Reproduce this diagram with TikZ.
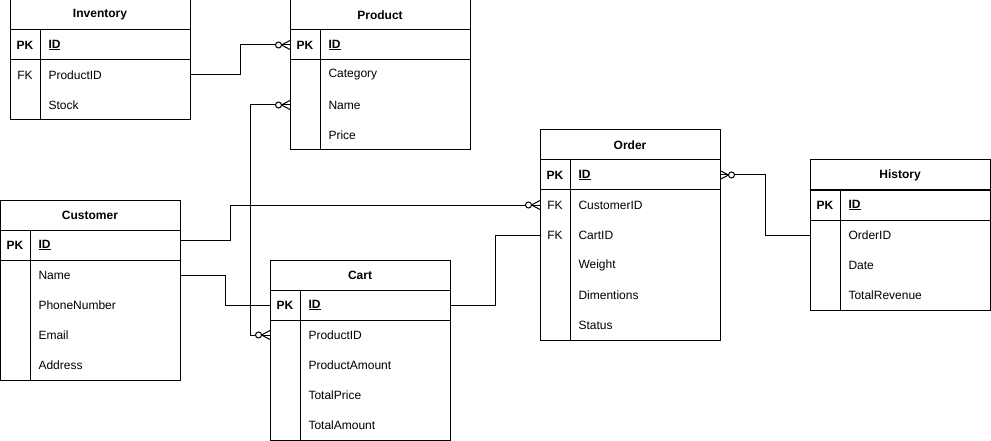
\documentclass[tikz,border=0pt]{standalone}
\usepackage{fontspec}
\setmainfont{Liberation Sans}
\usepackage{tikz}
\usetikzlibrary{calc,positioning}

% one ER table: name, top left corner, title, rows (key/field), last row number
\newcommand{\ertable}[5]{%
  \node[tabhead] (#1) at (#2) {#3};
  \node[pkrow, below=0pt of #1] (#1-pk) {};
  \node[keytext] at ($(#1-pk.west)+(15,0)$) {\bfseries PK};
  \node[fieldtext] at ($(#1-pk.west)+(38,0)$) {\bfseries\underline{ID}};
  \foreach \k/\f [count=\i] in {#4} {
    \node[rowcell] (#1-\i) at ($(#1-pk.south)+(0,{30*\i-15})$) {};
    \node[keytext] at ($(#1-\i.west)+(15,0)$) {\k};
    \node[fieldtext] at ($(#1-\i.west)+(38,0)$) {\f};
  }
  \draw (#1-pk.south west) rectangle (#1-#5.south east);
  \draw ($(#1-pk.north west)+(30,0)$) -- ($(#1-#5.south west)+(30,0)$);
}

\begin{document}
\begin{tikzpicture}[x=1pt,y=-1pt,line width=1pt,font=\fontsize{12}{14}\selectfont]

\tikzset{tabhead/.style={draw,anchor=north west,minimum width=180pt,minimum height=30pt,inner sep=0pt,outer sep=0pt,font=\fontsize{12}{14}\selectfont\bfseries},
pkrow/.style={draw,minimum width=180pt,minimum height=30pt,inner sep=0pt,outer sep=0pt},
rowcell/.style={minimum width=180pt,minimum height=30pt,inner sep=0pt,outer sep=0pt},
keytext/.style={inner sep=0pt},
fieldtext/.style={anchor=west,inner sep=0pt},
zeromany/.pic={\draw (0,-4.5) -- (-8.5,0) -- (0,4.5);
  \draw[fill=white] (-11.5,0) circle[radius=3];}}

\useasboundingbox (0,0) rectangle (991,441);

% Tables
\ertable{inv}{10,0}{Inventory}{FK/ProductID, /Stock}{2}
\ertable{prod}{290,0}{Product}{/Category, /Name, /Price}{3}
\ertable{cust}{0,200}{Customer}{/Name, /PhoneNumber, /Email, /Address}{4}
\ertable{cart}{270,260}{Cart}{/ProductID, /ProductAmount, /TotalPrice, /TotalAmount}{4}
\ertable{order}{540,130}{Order}{FK/CustomerID, FK/CartID, /Weight, /Dimentions, /Status}{5}
\ertable{hist}{810,160}{History}{/OrderID, /Date, /TotalRevenue}{3}

% Relations
\draw (inv-1.east) -- ++(50,0) |- (prod-pk.west);
\draw (prod-2.west) -- ++(-40,0) |- (cart-1.west);
\draw ([yshift=5pt]cust-pk.east) -- ++(50,0) |- (order-1.west);
\draw (cust-1.east) -- ++(45,0) |- (cart-pk.west);
\draw (cart-pk.east) -- ++(45,0) |- (order-2.west);
\draw (order-pk.east) -- ++(45,0) |- (hist-1.west);

% zero or many ends
\path (prod-pk.west) pic {zeromany};
\path (prod-2.west) pic {zeromany};
\path (cart-1.west) pic {zeromany};
\path (order-1.west) pic {zeromany};
\path (order-pk.east) pic[rotate=180] {zeromany};

\end{tikzpicture}
\end{document}
